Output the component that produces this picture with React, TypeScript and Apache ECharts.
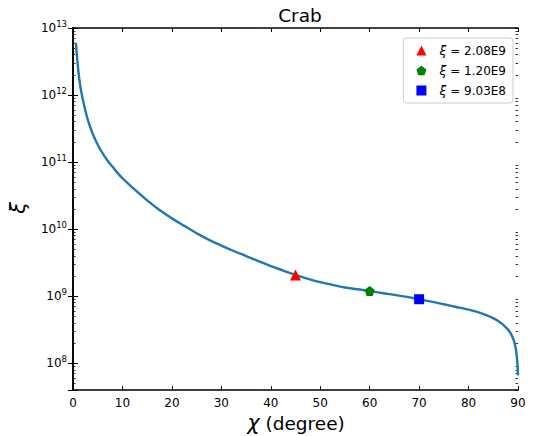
import React, { useEffect, useRef } from "react";
import * as echarts from "echarts";

const chiValues = [
  0.6, 0.8, 1.0, 1.25, 1.5, 1.75, 2.0, 2.5, 3.0, 3.5, 4.0, 5.0, 6.0, 7.0, 8.0, 9.0, 10, 11, 12.5, 15,
  17.5, 20, 22.5, 25, 27.5, 30, 32.5, 35, 37.5, 40, 42.5, 45, 47.5, 50, 52.5, 55, 57.5, 60, 62.5, 65,
  67.5, 70, 72.5, 75, 77.5, 80, 82.5, 84.5, 86, 87.5, 88.5, 89.2, 89.6, 89.85, 90,
];
const xiValues = [
  6.03e12, 3.8e12, 2.63e12, 1.78e12, 1.32e12, 1.05e12, 8.51e11, 5.89e11, 4.27e11, 3.31e11, 2.63e11,
  1.82e11, 1.35e11, 1.05e11, 8.51e10, 6.92e10, 5.75e10, 4.9e10, 3.89e10, 2.69e10, 1.93e10, 1.45e10,
  1.12e10, 8.71e9, 6.92e9, 5.69e9, 4.73e9, 3.98e9, 3.35e9, 2.82e9, 2.42e9, 2.08e9, 1.82e9, 1.62e9,
  1.48e9, 1.35e9, 1.27e9, 1.2e9, 1.12e9, 1.05e9, 9.77e8, 9.03e8, 8.32e8, 7.59e8, 6.92e8, 6.31e8,
  5.62e8, 4.9e8, 4.27e8, 3.47e8, 2.82e8, 2.14e8, 1.58e8, 1.07e8, 6.61e7,
];

const markerNames = ["2.08E9", "1.20E9", "9.03E8"];
const markerChi = [45, 60, 70];
const markerXi = [2.08e9, 1.2e9, 9.03e8];
const markerColors = ["#ff0000", "#008000", "#0000ff"];
const pentagon = "path://M0,-10 L9.51,-3.09 L5.88,8.09 L-5.88,8.09 L-9.51,-3.09 Z";
const markerSymbols = ["triangle", pentagon, "rect"];
const markerSizes = [11, 10, 10];

const minorMultipliers = [2, 3, 4, 5, 6, 7, 8, 9];
const yMin = 4e7;
const yMax = 1e13;

const FONT = "DejaVu Sans";

export default function App() {
  const ref = useRef<HTMLDivElement>(null);
  useEffect(() => {
    if (!ref.current) return;
    const chart = echarts.init(ref.current, null, { renderer: "svg" });
    const axisLine = { show: true, lineStyle: { color: "#000", width: 1.6 } };
    const majorY = (position: string, labels: boolean) => ({
      type: "log",
      logBase: 10,
      min: yMin,
      max: yMax,
      position,
      axisLine,
      splitLine: { show: false },
      axisTick: { show: true, inside: true, length: 5, lineStyle: { color: "#000", width: 1 } },
      axisLabel: labels
        ? {
            show: true,
            margin: 6,
            formatter: (v: number) => {
              const l = Math.log10(v);
              const e = Math.round(l);
              if (Math.abs(l - e) > 1e-6) return "";
              return `{b|10}{s|${e}}`;
            },
            rich: {
              b: { fontFamily: FONT, fontSize: 12, color: "#000" },
              s: { fontFamily: FONT, fontSize: 8.5, color: "#000", padding: [0, 0, 8, 0] },
            },
          }
        : { show: false },
    });
    // minor ticks: an axis whose range is divided by m puts its 10^n ticks at m*10^n of the main scale
    const minorY = (position: string, m: number) => ({
      type: "log",
      logBase: 10,
      min: yMin / m,
      max: yMax / m,
      position,
      axisLine: { show: false },
      splitLine: { show: false },
      axisTick: { show: true, inside: true, length: 2.5, lineStyle: { color: "#000", width: 0.8 } },
      axisLabel: { show: false },
    });
    const xAx = (position: string, labels: boolean) => ({
      type: "value",
      min: 0,
      max: 90,
      interval: 10,
      position,
      axisLine,
      splitLine: { show: false },
      axisTick: { show: true, inside: true, length: 4, lineStyle: { color: "#000", width: 1 } },
      axisLabel: labels
        ? { show: true, margin: 7, color: "#000", fontFamily: FONT, fontSize: 12 }
        : { show: false },
    });

    const curve = chiValues.map((c, i) => [c, xiValues[i]]);

    chart.setOption({
      animation: false,
      backgroundColor: "#fff",
      title: {
        text: "Crab",
        left: 295,
        textAlign: "center",
        top: 1,
        textStyle: { fontFamily: FONT, fontSize: 18.5, fontWeight: "normal", color: "#000" },
      },
      grid: { left: 73, right: 18, top: 28, bottom: 46, containLabel: false },
      xAxis: [xAx("bottom", true), xAx("top", false)],
      yAxis: [
        majorY("left", true),
        majorY("right", false),
        ...minorMultipliers.map((m) => minorY("left", m)),
        ...minorMultipliers.map((m) => minorY("right", m)),
      ],
      legend: {
        orient: "vertical",
        right: 23,
        top: 38,
        padding: [6, 7, 6, 13],
        itemGap: 7,
        itemWidth: 10,
        itemHeight: 10,
        backgroundColor: "#fff",
        borderColor: "#cccccc",
        borderWidth: 1,
        borderRadius: 3,
        data: markerNames.map((n) => "ξ = " + n),
        formatter: (name: string) => `{i|ξ}{t|${name.slice(1)}}`,
        textStyle: {
          padding: [0, 0, 0, 8],
          rich: {
            i: { fontFamily: FONT, fontSize: 12.5, fontStyle: "italic", color: "#000" },
            t: { fontFamily: FONT, fontSize: 12, color: "#000" },
          },
        },
      },
      series: [
        {
          type: "line",
          name: "curve",
          data: curve,
          xAxisIndex: 0,
          yAxisIndex: 0,
          showSymbol: false,
          symbol: "none",
          smooth: 0.4,
          lineStyle: { color: "#1f77b4", width: 2.4 },
          z: 2,
        },
        ...markerNames.map((n, i) => ({
          type: "scatter",
          name: "ξ = " + n,
          data: [[markerChi[i], markerXi[i]]],
          xAxisIndex: 0,
          yAxisIndex: 0,
          symbol: markerSymbols[i],
          symbolSize: markerSizes[i],
          itemStyle: { color: markerColors[i], opacity: 1 },
          z: 3,
        })),
      ],
      graphic: [
        {
          type: "text",
          x: 296,
          y: 423,
          style: {
            text: "{i|χ}{t| (degree)}",
            align: "center",
            verticalAlign: "middle",
            rich: {
              i: { fontFamily: FONT, fontSize: 21, fontStyle: "italic", fill: "#000" },
              t: { fontFamily: FONT, fontSize: 18.5, fill: "#000" },
            },
          },
        },
        {
          type: "text",
          x: 18,
          y: 208,
          rotation: Math.PI / 2,
          style: {
            text: "ξ",
            align: "center",
            verticalAlign: "middle",
            fontFamily: FONT,
            fontSize: 21,
            fontStyle: "italic",
            fill: "#000",
          },
        },
      ],
    });
    return () => chart.dispose();
  }, []);
  return <div ref={ref} style={{ width: 536, height: 436, position: "absolute", left: 0, top: 0 }} />;
}
